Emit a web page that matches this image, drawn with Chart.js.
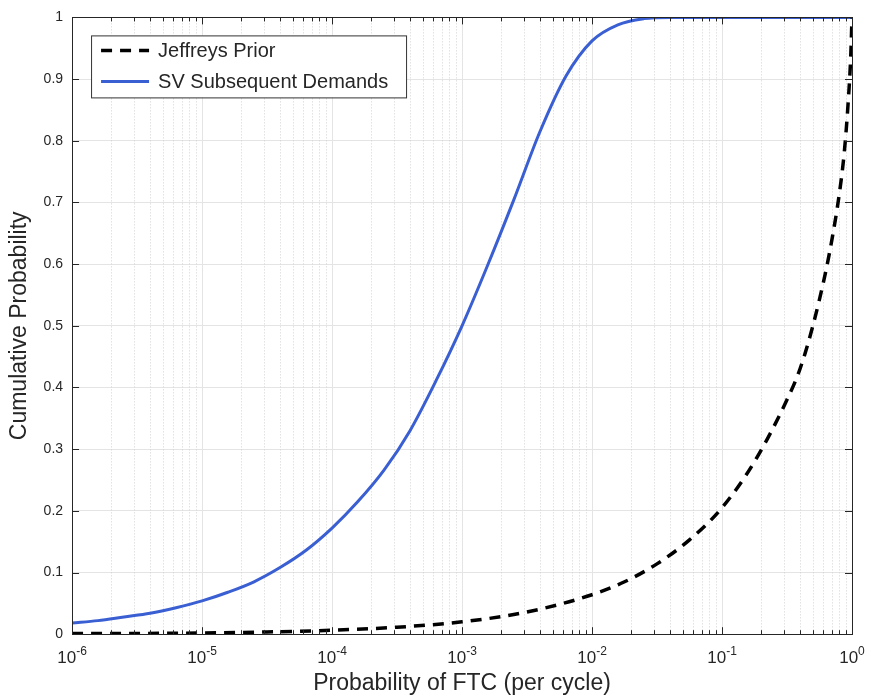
<!DOCTYPE html>
<html>
<head>
<meta charset="utf-8">
<script src="https://cdn.jsdelivr.net/npm/chart.js@4/dist/chart.umd.min.js"></script>
<style>
  body { margin: 0; background: #ffffff; }
  #wrap { width: 870px; height: 700px; }
</style>
</head>
<body>
<div id="wrap"><canvas id="cdf" width="870" height="700"></canvas></div>
<script>
// Series names shown in the legend
const seriesNames = ["Jeffreys Prior", "SV Subsequent Demands"];

// Jeffreys prior: failure probability (x) and cumulative probability (y)
const jeffreysX = [1e-6, 3.16e-6, 1e-5, 3.16e-5, 1e-4, 3.16e-4, 1e-3, 3.16e-3, 1e-2, 1.78e-2,
    3.16e-2, 5.62e-2, 0.1, 0.178, 0.316, 0.398, 0.5, 0.631, 0.708, 0.794, 0.871, 0.933, 0.977, 1];
const jeffreysY = [0.001, 0.0012, 0.002, 0.0036, 0.0064, 0.0113, 0.020, 0.036, 0.064, 0.085,
    0.114, 0.153, 0.205, 0.28, 0.38, 0.43, 0.50, 0.59, 0.645, 0.71, 0.78, 0.86, 0.935, 1.0];

// SV subsequent demands posterior
const svX = [1e-6, 1.58e-6, 2.51e-6, 3.98e-6, 6.31e-6, 1e-5, 1.58e-5, 2.51e-5, 3.98e-5, 6.31e-5,
    1e-4, 1.58e-4, 2.51e-4, 3.98e-4, 6.31e-4, 1e-3, 1.58e-3, 2.51e-3, 3.98e-3, 6.31e-3,
    1e-2, 1.58e-2, 2.51e-2, 3.98e-2, 0.1, 1];
const svY = [0.018, 0.022, 0.028, 0.034, 0.043, 0.054, 0.068, 0.085, 0.108, 0.136,
    0.172, 0.215, 0.266, 0.330, 0.411, 0.500, 0.599, 0.705, 0.815, 0.905,
    0.962, 0.988, 0.998, 1.0, 1.0, 1.0];

// Tick values for both axes
const xTicks = [1e-6, 1e-5, 1e-4, 1e-3, 1e-2, 1e-1, 1];
const yTicks = [0, 0.1, 0.2, 0.3, 0.4, 0.5, 0.6, 0.7, 0.8, 0.9, 1];

const axisColor = "#262626";
const fontFamily = "'Liberation Sans', Arial, 'DejaVu Sans', sans-serif";

function toPoints(xs, ys) {
    return xs.map(function (x, i) { return { x: x, y: ys[i] }; });
}

function exponentOf(v) {
    return String(Math.round(Math.log10(v)));
}

// Minor dotted grid, inward ticks, box, power-of-ten labels and the legend
const matlabStyle = {
    id: "matlabStyle",
    beforeDatasetsDraw(chart) {
        const ctx = chart.ctx;
        const area = chart.chartArea;
        const xs = chart.scales.x;
        ctx.save();
        ctx.strokeStyle = "#d2d2d2";
        ctx.lineWidth = 1;
        ctx.setLineDash([1, 2]);
        for (let d = -6; d < 0; d++) {
            for (let k = 2; k <= 9; k++) {
                const px = Math.round(xs.getPixelForValue(k * Math.pow(10, d))) + 0.5;
                ctx.beginPath();
                ctx.moveTo(px, area.top);
                ctx.lineTo(px, area.bottom);
                ctx.stroke();
            }
        }
        ctx.restore();
    },
    afterDraw(chart) {
        const ctx = chart.ctx;
        const area = chart.chartArea;
        const xs = chart.scales.x;
        const ys = chart.scales.y;
        ctx.save();
        ctx.strokeStyle = axisColor;
        ctx.lineWidth = 1;
        // box
        ctx.strokeRect(Math.round(area.left) + 0.5, Math.round(area.top) + 0.5,
            Math.round(area.right - area.left), Math.round(area.bottom - area.top));
        // x ticks, top and bottom
        for (let d = -6; d <= 0; d++) {
            for (let k = 1; k <= 9; k++) {
                if (d === 0 && k > 1) break;
                const px = Math.round(xs.getPixelForValue(k * Math.pow(10, d))) + 0.5;
                const len = k === 1 ? 7 : 4;
                ctx.beginPath();
                ctx.moveTo(px, area.bottom);
                ctx.lineTo(px, area.bottom - len);
                ctx.moveTo(px, area.top);
                ctx.lineTo(px, area.top + len);
                ctx.stroke();
            }
        }
        // y ticks, left and right
        yTicks.forEach(function (v) {
            const py = Math.round(ys.getPixelForValue(v)) + 0.5;
            ctx.beginPath();
            ctx.moveTo(area.left, py);
            ctx.lineTo(area.left + 7, py);
            ctx.moveTo(area.right, py);
            ctx.lineTo(area.right - 7, py);
            ctx.stroke();
        });

        // x tick labels as 10 with a raised exponent
        ctx.fillStyle = axisColor;
        ctx.textBaseline = "alphabetic";
        ctx.textAlign = "left";
        xTicks.forEach(function (v) {
            const px = xs.getPixelForValue(v);
            const exp = exponentOf(v);
            ctx.font = "17px " + fontFamily;
            const baseW = ctx.measureText("10").width;
            ctx.font = "12px " + fontFamily;
            const expW = ctx.measureText(exp).width;
            const start = px - (baseW + expW) / 2;
            ctx.font = "17px " + fontFamily;
            ctx.fillText("10", start, area.bottom + 29);
            ctx.font = "12px " + fontFamily;
            ctx.fillText(exp, start + baseW, area.bottom + 21);
        });

        // legend box
        const lx = area.left + 19, ly = area.top + 18, lw = 315, lh = 62;
        ctx.fillStyle = "#ffffff";
        ctx.fillRect(lx, ly, lw, lh);
        ctx.strokeStyle = "#333333";
        ctx.strokeRect(lx + 0.5, ly + 0.5, lw, lh);
        ctx.font = "20px " + fontFamily;
        ctx.textBaseline = "middle";
        chart.data.datasets.forEach(function (ds, i) {
            const rowY = ly + 15 + i * 31;
            ctx.strokeStyle = ds.borderColor;
            ctx.lineWidth = ds.borderWidth;
            ctx.setLineDash(ds.borderDash || []);
            ctx.beginPath();
            ctx.moveTo(lx + 10, rowY);
            ctx.lineTo(lx + 58, rowY);
            ctx.stroke();
            ctx.setLineDash([]);
            ctx.fillStyle = axisColor;
            ctx.fillText(ds.label, lx + 67, rowY + 1);
        });
        ctx.restore();
    }
};

new Chart(document.getElementById("cdf"), {
    type: "line",
    data: {
        datasets: [{
            label: seriesNames[0],
            data: toPoints(jeffreysX, jeffreysY),
            borderColor: "#000000",
            borderWidth: 3.5,
            borderDash: [11, 8],
            pointRadius: 0,
            cubicInterpolationMode: "monotone",
            fill: false
        }, {
            label: seriesNames[1],
            data: toPoints(svX, svY),
            borderColor: "#3a5fd2",
            borderWidth: 3,
            pointRadius: 0,
            cubicInterpolationMode: "monotone",
            fill: false
        }]
    },
    options: {
        responsive: false,
        animation: false,
        layout: { padding: { top: 11, right: 18, left: 6, bottom: 3 } },
        plugins: {
            legend: { display: false },
            tooltip: { enabled: false }
        },
        scales: {
            x: {
                type: "logarithmic",
                min: 1e-6,
                max: 1,
                afterBuildTicks: function (scale) {
                    scale.ticks = xTicks.map(function (v) { return { value: v }; });
                },
                ticks: {
                    autoSkip: false,
                    maxRotation: 0,
                    padding: 7,
                    color: "rgba(0,0,0,0)",
                    font: { family: fontFamily, size: 16 },
                    callback: function (v) { return "10"; }
                },
                grid: { color: "#e4e4e4", drawTicks: false },
                border: { color: axisColor },
                title: {
                    display: true,
                    text: "Probability of FTC (per cycle)",
                    color: axisColor,
                    font: { family: fontFamily, size: 23 },
                    padding: { top: 2, bottom: 0 }
                }
            },
            y: {
                min: 0,
                max: 1,
                afterBuildTicks: function (scale) {
                    scale.ticks = yTicks.map(function (v) { return { value: v }; });
                },
                ticks: {
                    padding: 9,
                    color: axisColor,
                    font: { family: fontFamily, size: 14 },
                    callback: function (v) { return String(Math.round(v * 10) / 10); }
                },
                grid: { color: "#e4e4e4", drawTicks: false },
                border: { color: axisColor },
                title: {
                    display: true,
                    text: "Cumulative Probability",
                    color: axisColor,
                    font: { family: fontFamily, size: 23 },
                    padding: { top: 0, bottom: 1 }
                }
            }
        }
    },
    plugins: [matlabStyle]
});
</script>
</body>
</html>
